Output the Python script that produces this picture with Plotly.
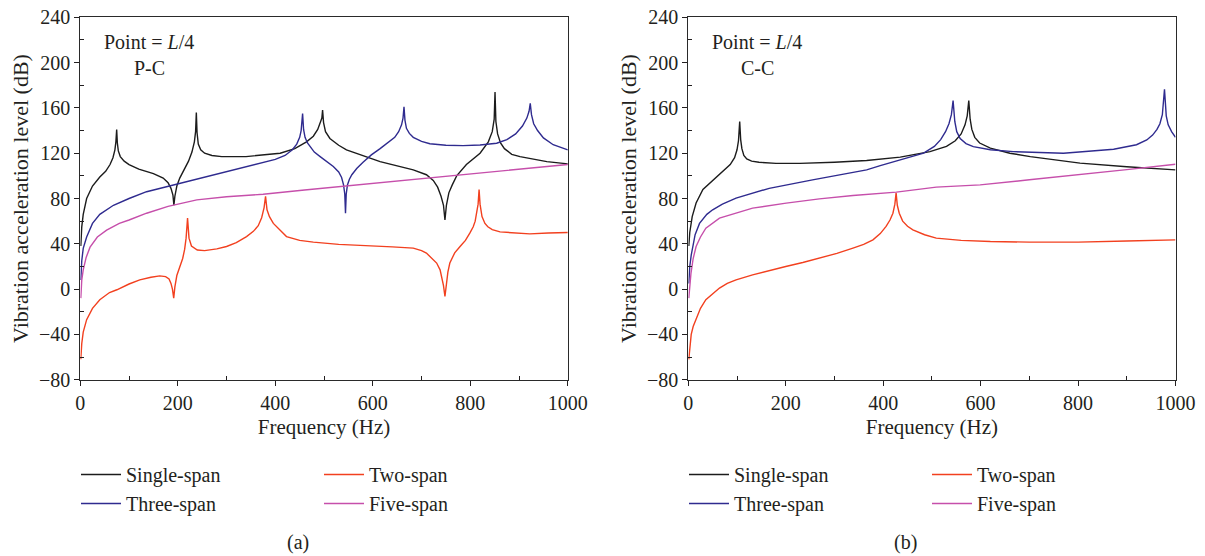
import plotly.graph_objects as go

# ---------------- Panel (a): P-C, point = L/4 ----------------
pc_single_f = [1, 3, 6, 13, 25, 40, 52, 61, 67, 71, 73, 74.6, 76, 78, 82, 90, 100, 120, 150, 170, 180, 186, 190, 192,
               194, 198, 204, 212, 222, 229, 234, 236.5, 238, 239.5, 242, 247, 255, 270, 290, 340, 410, 440, 464,
               478, 487, 493, 495.5, 497, 499, 503, 512, 530, 546, 615, 683, 710, 724, 733, 740, 745, 748, 751, 756,
               763, 772, 792, 820, 837, 845, 849, 850.7, 852.5, 856, 862, 870, 885, 902, 957, 1000]
pc_single_db = [38, 55, 66, 80, 91, 99, 104, 110, 116, 123, 130, 141, 129, 122, 117, 113, 110, 106, 102, 98, 94, 89,
                83, 74, 82, 91, 98, 105, 113, 121, 130, 139, 156, 138, 128, 123, 120, 118, 117, 117, 120, 124, 130,
                135, 141, 148, 151, 158, 147, 139, 133, 127, 123, 112.6, 105.3, 101, 96, 90, 82, 74, 61, 74, 85, 92,
                100, 110, 120, 130, 139, 150, 174, 148, 137, 129, 124, 119, 117, 112.6, 110.6]

pc_three_f = [1, 3, 6, 13, 25, 40, 68, 100, 136, 191, 273, 341, 380, 400, 420, 435, 444, 450, 453, 456, 458, 461, 466,
              471, 480, 492, 505, 519, 530, 536, 540, 542.5, 544, 545.5, 548, 552, 557, 567, 580, 597, 615, 632, 645,
              653, 659, 662, 664, 666, 669, 675, 683, 700, 717, 750, 785, 820, 854, 875, 893, 907, 916, 920.5, 923,
              925.5, 930, 938, 950, 970, 1000]
pc_three_db = [8, 25, 36, 46, 58, 66, 74, 80, 86, 92, 101, 108, 112, 114.5, 118, 123, 128, 134, 140, 155, 141, 134,
               129, 125.8, 121, 117, 112.6, 108.2, 103.5, 98.5, 92, 84, 67, 84, 92, 97, 101, 106.5, 112, 118.5, 124,
               129.5, 134, 139, 145, 151, 161, 149, 142, 137.5, 134, 130.5, 128.4, 127, 126.7, 127.2, 128.8, 132,
               137, 144, 151, 157, 164, 154, 146, 140, 133.5, 127.5, 123]

pc_two_f = [1, 3, 6, 13, 25, 40, 60, 75, 100, 122, 145, 163, 175, 182, 186, 189, 191.6, 194, 198, 205, 210, 214, 217,
            220, 223, 228, 240, 255, 280, 300, 320, 341, 355, 365, 372, 377, 380, 383, 388, 396, 410, 423, 450,
            478, 530, 580, 640, 683, 700, 710, 720, 731, 738, 741, 745, 748, 751, 754, 758, 768, 779, 790, 799,
            806, 810, 813, 816, 818, 820, 824, 830, 836, 845, 861, 900, 922, 960, 1000]
pc_two_db = [-62, -48, -38, -27, -17, -9.4, -3, -0.6, 4.5, 8.2, 10.5, 11.7, 11, 9, 5, 0, -8, 2, 12, 20, 27, 35, 45,
             62.7, 45, 38, 34.5, 34, 35.5, 37.6, 41, 46.4, 51, 56, 63, 72, 82, 70, 64, 58, 52, 46.4, 43, 41.5, 39.5,
             38.2, 37.3, 36.2, 34, 31.8, 28, 23, 17, 11, 3, -6.5, 5, 15, 23, 32, 37.6, 43, 49.4, 55, 60, 67, 75, 88,
             75, 64, 58, 55, 52.5, 50.5, 49, 48.8, 49.5, 50]

pc_five_f = [1, 3, 6, 12, 20, 35, 54, 80, 100, 136, 180, 239, 300, 375, 460, 546, 650, 751, 850, 1000]
pc_five_db = [-8, 8, 17, 28, 37, 46, 52, 58, 61, 67, 73, 78.8, 81.5, 83.8, 87.5, 91, 95.5, 99.4, 104, 110]

# ---------------- Panel (b): C-C, point = L/4 ----------------
cc_single_f = [1, 3, 8, 16, 30, 50, 72, 86, 95, 100, 103, 105.5, 107.5, 110, 114, 120, 130, 145, 180, 229, 300, 366,
               435, 496, 530, 548, 560, 568, 572.5, 575.7, 578.5, 582, 588, 598, 620, 660, 702, 750, 804, 900, 1000]
cc_single_db = [38, 50, 64, 76, 88, 96, 104, 110, 116, 123, 131, 148, 132, 124, 118, 115, 113, 112, 111, 111, 112,
                113.5, 116.5, 121.4, 126, 131, 137, 145, 153, 166.4, 150, 141, 134, 129, 124.5, 120, 117, 114,
                111.2, 108, 105.3]

cc_three_f = [1, 3, 6, 9, 14, 23, 38, 50, 70, 98, 166, 255, 366, 394, 435, 483, 505, 518, 528, 535, 540, 543.5, 547,
              551, 558, 570, 585, 620, 667, 770, 873, 920, 941, 953, 962, 968, 973, 977.4, 981, 985, 992, 1000]
cc_three_db = [5, 20, 30, 37.6, 48, 58, 66, 70, 75, 80.3, 89, 96.4, 105.3, 109, 114, 120, 126, 132, 139, 146, 154,
               166.4, 148, 139, 133, 128.5, 125.8, 123, 121.4, 120, 123.5, 127.5, 131.7, 136, 141, 146, 154, 176.5,
               153, 145, 139, 134]

cc_two_f = [1, 3, 6, 10, 16, 25, 36, 50, 64, 80, 98, 132, 165, 200, 235, 269, 305, 338, 360, 379, 394, 406, 414,
            420, 424, 426.5, 429, 433, 440, 450, 461, 485, 509, 560, 620, 700, 800, 900, 1000]
cc_two_db = [-62, -50, -40, -33, -27, -17, -9.4, -4, 0.9, 5, 8.2, 12.6, 16.5, 20, 23.5, 27.4, 31.5, 36.2, 39.5,
             43.5, 49, 55.3, 61, 67, 75, 85, 74, 67, 60, 55.5, 52.3, 48, 45, 43, 42, 41.5, 41.5, 42.5, 43.5]

cc_five_f = [1, 3, 5.5, 10, 16, 25, 36, 64, 132, 201, 269, 338, 427, 509, 599, 700, 804, 900, 1000]
cc_five_db = [-8, 5, 14, 27, 37.6, 46, 53.8, 62.7, 71.5, 75.9, 79.7, 82.6, 85.6, 90, 92, 96.5, 100.9, 105.5, 110.3]

series_names = ["Single-span", "Three-span", "Two-span", "Five-span"]
x_ticks = [0, 200, 400, 600, 800, 1000]
y_ticks = [-80, -40, 0, 40, 80, 120, 160, 200, 240]
x_minor = [100, 300, 500, 700, 900]
y_minor = [-60, -20, 20, 60, 100, 140, 180, 220]

COLORS = {"Single-span": "#1c1c1c", "Three-span": "#2f2b8f", "Two-span": "#f2401f", "Five-span": "#c64fab"}
FONT = "Liberation Serif"
TXT = "#231f20"

W, H = 1205, 556
fig = go.Figure()

panels = [
    ("x", "y", [(pc_single_f, pc_single_db), (pc_three_f, pc_three_db), (pc_two_f, pc_two_db), (pc_five_f, pc_five_db)],
     ["legend", "legend", "legend2", "legend2"]),
    ("x2", "y2", [(cc_single_f, cc_single_db), (cc_three_f, cc_three_db), (cc_two_f, cc_two_db), (cc_five_f, cc_five_db)],
     ["legend3", "legend3", "legend4", "legend4"]),
]
for xa, ya, data, legs in panels:
    for name, (f, db), lg in zip(series_names, data, legs):
        fig.add_trace(go.Scatter(x=f, y=db, mode="lines", name=name, xaxis=xa, yaxis=ya, legend=lg,
                                 line=dict(color=COLORS[name], width=1.4), hoverinfo="x+y+name"))

def px2fx(p):
    return p / W

def px2fy(p):
    return 1 - p / H

x_dom_a = [px2fx(80.3), px2fx(567.8)]
x_dom_b = [px2fx(688.3), px2fx(1175.5)]
y_dom = [px2fy(379.7), px2fy(17.3)]

def xaxis(dom, anchor):
    return dict(domain=dom, anchor=anchor, range=[0, 1000], tickvals=x_ticks, ticks="outside", ticklen=5,
                tickwidth=1, tickcolor=TXT, showline=True, linecolor="#2a2a2a", linewidth=1.2, mirror=True,
                showgrid=False, zeroline=False, automargin=False,
                minor=dict(tickvals=x_minor, ticks="inside", ticklen=4, tickwidth=1, tickcolor=TXT, showgrid=False),
                tickfont=dict(family=FONT, size=20, color=TXT),
                title=dict(text="Frequency (Hz)", font=dict(family=FONT, size=21, color=TXT), standoff=6))

def yaxis(dom, anchor):
    return dict(domain=dom, anchor=anchor, range=[-80, 240], tickvals=y_ticks, ticks="outside", ticklen=5,
                tickwidth=1, tickcolor=TXT, showline=True, linecolor="#2a2a2a", linewidth=1.2, mirror=True,
                showgrid=False, zeroline=False, automargin=False,
                minor=dict(tickvals=y_minor, ticks="inside", ticklen=4, tickwidth=1, tickcolor=TXT, showgrid=False),
                tickfont=dict(family=FONT, size=20, color=TXT),
                title=dict(text="Vibration acceleration level (dB)", font=dict(family=FONT, size=22, color=TXT),
                           standoff=4))

leg_common = dict(font=dict(family=FONT, size=20, color=TXT), bgcolor="rgba(0,0,0,0)", borderwidth=0,
                  xanchor="left", yanchor="top", orientation="v", itemwidth=40, tracegroupgap=0)

fig.update_layout(
    width=W, height=H, margin=dict(l=0, r=0, t=0, b=0, autoexpand=False),
    paper_bgcolor="white", plot_bgcolor="white",
    xaxis=xaxis(x_dom_a, "y"), yaxis=yaxis(y_dom, "x"),
    xaxis2=xaxis(x_dom_b, "y2"), yaxis2=yaxis(y_dom, "x2"),
    showlegend=True,
    legend=dict(x=px2fx(76), y=px2fy(455), **leg_common),
    legend2=dict(x=px2fx(319), y=px2fy(455), **leg_common),
    legend3=dict(x=px2fx(684), y=px2fy(455), **leg_common),
    legend4=dict(x=px2fx(927), y=px2fy(455), **leg_common),
    annotations=[
        dict(text="Point = <i>L</i>/4", x=px2fx(102), y=px2fy(42), xref="paper", yref="paper", showarrow=False,
             xanchor="left", yanchor="middle", font=dict(family=FONT, size=20, color=TXT)),
        dict(text="P-C", x=px2fx(149), y=px2fy(68), xref="paper", yref="paper", showarrow=False,
             xanchor="center", yanchor="middle", font=dict(family=FONT, size=20, color=TXT)),
        dict(text="Point = <i>L</i>/4", x=px2fx(710), y=px2fy(42), xref="paper", yref="paper", showarrow=False,
             xanchor="left", yanchor="middle", font=dict(family=FONT, size=20, color=TXT)),
        dict(text="C-C", x=px2fx(757), y=px2fy(68), xref="paper", yref="paper", showarrow=False,
             xanchor="center", yanchor="middle", font=dict(family=FONT, size=20, color=TXT)),
        dict(text="(a)", x=px2fx(298), y=px2fy(542), xref="paper", yref="paper", showarrow=False,
             xanchor="center", yanchor="middle", font=dict(family=FONT, size=20, color=TXT)),
        dict(text="(b)", x=px2fx(905), y=px2fy(542), xref="paper", yref="paper", showarrow=False,
             xanchor="center", yanchor="middle", font=dict(family=FONT, size=20, color=TXT)),
    ],
)

fig.write_html("out.html", config={"displayModeBar": False},
               post_script="document.body.style.margin='0';document.body.style.overflow='hidden';")
